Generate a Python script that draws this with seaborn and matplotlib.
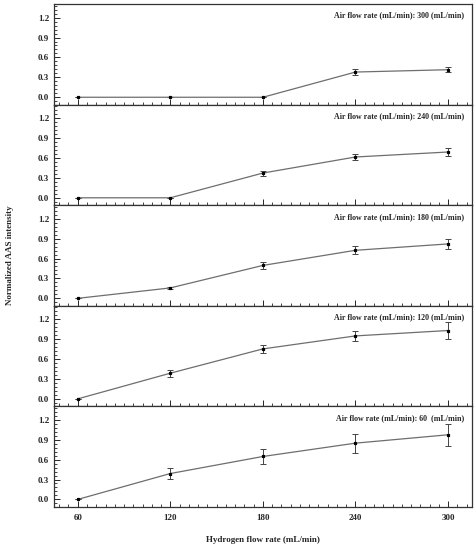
import numpy as np
import pandas as pd
import matplotlib
matplotlib.use('Agg')
import matplotlib.pyplot as plt
from matplotlib.ticker import MultipleLocator
import seaborn as sns

sns.set_style('ticks')
plt.rcParams['font.family'] = ['Liberation Serif', 'DejaVu Serif']
plt.rcParams['font.weight'] = 'bold'

hydrogen = [60, 120, 180, 240, 300]
air_rates = ['300', '240', '180', '120', '60 ']

# normalized intensity and error for each air flow rate (top to bottom)
int_300 = [0.0, 0.0, 0.0, 0.38, 0.415]
err_300 = [0.0, 0.0, 0.0, 0.04, 0.04]
int_240 = [0.0, 0.0, 0.373, 0.615, 0.69]
err_240 = [0.0, 0.0, 0.038, 0.043, 0.058]
int_180 = [0.0, 0.157, 0.496, 0.724, 0.82]
err_180 = [0.0, 0.01, 0.053, 0.058, 0.076]
int_120 = [0.0, 0.387, 0.753, 0.949, 1.03]
err_120 = [0.0, 0.055, 0.063, 0.07, 0.13]
int_60 = [0.0, 0.39, 0.647, 0.848, 0.974]
err_60 = [0.0, 0.078, 0.115, 0.143, 0.168]

intensities = [int_300, int_240, int_180, int_120, int_60]
errors = [err_300, err_240, err_180, err_120, err_60]

fig, axes = plt.subplots(5, 1, figsize=(4.76, 5.5), dpi=100, sharex=True)
fig.subplots_adjust(left=0.1134, right=0.9916, top=0.9927, bottom=0.0787, hspace=0)

for ax, rate, vals, errs in zip(axes, air_rates, intensities, errors):
    df = pd.DataFrame({'h': hydrogen, 'v': vals, 'e': errs})
    sns.lineplot(data=df, x='h', y='v', ax=ax, color='#6e6e6e', linewidth=0.9,
                 marker='s', markersize=2.0, markerfacecolor='black',
                 markeredgecolor='black', markeredgewidth=0.9, zorder=3)
    ax.errorbar(df['h'], df['v'], yerr=df['e'], fmt='none', ecolor='#444444',
                elinewidth=0.7, capsize=2, capthick=0.7, zorder=2)
    ax.set_xlim(44.6, 315.5)
    ax.set_ylim(-0.11, 1.405)
    ax.xaxis.set_major_locator(MultipleLocator(60))
    ax.xaxis.set_minor_locator(MultipleLocator(6))
    ax.yaxis.set_major_locator(MultipleLocator(0.3))
    ax.yaxis.set_minor_locator(MultipleLocator(0.06))
    ax.yaxis.set_major_formatter(matplotlib.ticker.FormatStrFormatter('%.1f'))
    ax.tick_params(axis='both', which='major', direction='in', length=4, width=0.7,
                   labelsize=6.5, top=False, right=False)
    ax.tick_params(axis='both', which='minor', direction='in', length=2, width=0.6,
                   top=False, right=False)
    ax.tick_params(axis='x', pad=5)
    for s in ax.spines.values():
        s.set_linewidth(0.9)
        s.set_color('#333333')
    ax.set_xlabel('')
    ax.set_ylabel('')
    ax.text(0.981, 0.884, 'Air flow rate (mL/min): ' + rate + ' (mL/min)',
            transform=ax.transAxes, ha='right', va='center', fontsize=5.7,
            fontweight='bold')

axes[-1].set_xlabel('Hydrogen flow rate (mL/min)', fontsize=6.5, fontweight='bold', labelpad=10)
fig.text(10 / 476, 1 - 255 / 550, 'Normalized AAS intensity', rotation=90,
         ha='center', va='center', fontsize=6.5, fontweight='bold')

fig.savefig('out.png', dpi=100)
